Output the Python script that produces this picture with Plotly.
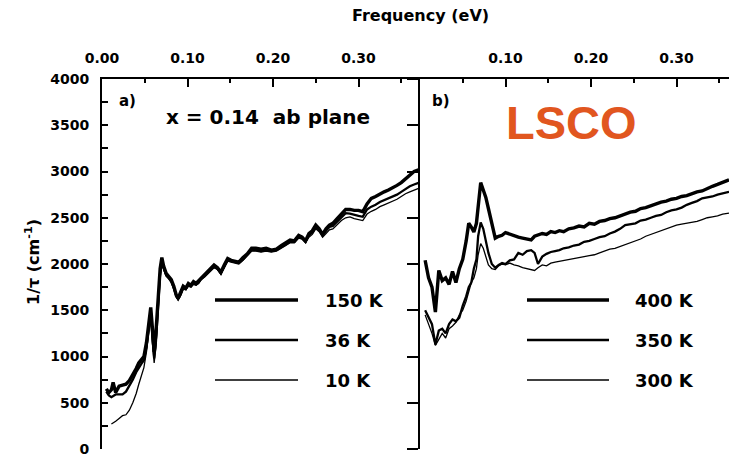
import plotly.graph_objects as go

# ---------------- data ----------------
energy_a = [0.005, 0.008, 0.011, 0.013, 0.016, 0.020, 0.024, 0.028, 0.032, 0.036,
            0.040, 0.043, 0.046, 0.049, 0.052, 0.055, 0.057, 0.059, 0.061, 0.063,
            0.066, 0.068, 0.070, 0.072, 0.075, 0.078, 0.081, 0.084, 0.087, 0.089,
            0.092, 0.095, 0.098, 0.101, 0.104, 0.107, 0.110, 0.113, 0.116, 0.120,
            0.124, 0.128, 0.131, 0.135, 0.139, 0.143, 0.147, 0.151, 0.155, 0.160,
            0.165, 0.170, 0.175, 0.180, 0.186, 0.192, 0.198, 0.204, 0.210, 0.215,
            0.220, 0.225, 0.230, 0.234, 0.238, 0.242, 0.246, 0.250, 0.254, 0.258,
            0.262, 0.266, 0.270, 0.275, 0.280, 0.285, 0.290, 0.295, 0.300, 0.305,
            0.310, 0.315, 0.320, 0.325, 0.330, 0.335, 0.340, 0.345, 0.350, 0.355,
            0.360, 0.365, 0.371]

rate_150K = [650, 610, 640, 720, 610, 680, 690, 700, 740, 800,
             870, 930, 960, 1000, 1150, 1400, 1530, 1300, 1050, 1250,
             1700, 1950, 2070, 1980, 1900, 1870, 1830, 1760, 1660, 1630,
             1690, 1760, 1740, 1790, 1770, 1810, 1790, 1820, 1850, 1890,
             1930, 1960, 1990, 1960, 1910, 1990, 2060, 2040, 2030, 2020,
             2070, 2110, 2170, 2170, 2160, 2170, 2150, 2160, 2200, 2230,
             2260, 2250, 2310, 2290, 2250, 2330, 2360, 2420, 2380, 2320,
             2380, 2420, 2440, 2490, 2540, 2590, 2590, 2580, 2580, 2565,
             2650, 2710, 2730, 2760, 2780, 2800, 2820, 2850, 2880, 2920,
             2960, 3000, 3020]

rate_36K = [620, 580, 560, 570, 590, 590, 590, 620, 680, 750,
            830, 880, 920, 960, 1100, 1350, 1480, 1200, 980, 1150,
            1600, 1900, 2020, 1960, 1880, 1850, 1810, 1740, 1650, 1620,
            1670, 1740, 1730, 1770, 1760, 1790, 1780, 1800, 1840, 1870,
            1910, 1950, 1970, 1950, 1900, 1970, 2040, 2030, 2020, 2010,
            2050, 2100, 2150, 2150, 2140, 2150, 2140, 2150, 2180, 2210,
            2240, 2240, 2290, 2280, 2240, 2310, 2340, 2400, 2370, 2310,
            2360, 2400, 2410, 2460, 2500, 2550, 2545, 2530, 2520, 2510,
            2590, 2620, 2640, 2670, 2690, 2710, 2730, 2750, 2780, 2810,
            2840, 2860, 2880]

rate_10K = [None, None, 270, 280, 300, 330, 360, 370, 420, 500,
            600, 700, 780, 880, 1050, 1300, 1420, 1150, 930, 1100,
            1550, 1850, 1990, 1940, 1870, 1840, 1800, 1730, 1640, 1610,
            1660, 1730, 1720, 1760, 1750, 1780, 1770, 1790, 1830, 1860,
            1900, 1940, 1960, 1940, 1890, 1960, 2030, 2020, 2010, 2000,
            2040, 2090, 2140, 2140, 2130, 2140, 2130, 2140, 2170, 2200,
            2230, 2230, 2280, 2270, 2230, 2290, 2320, 2380, 2350, 2290,
            2330, 2370, 2380, 2430, 2470, 2500, 2510, 2490, 2480, 2470,
            2540, 2570, 2590, 2620, 2640, 2660, 2680, 2700, 2730, 2760,
            2780, 2800, 2820]

energy_b = [0.006, 0.010, 0.014, 0.018, 0.022, 0.026, 0.030, 0.034, 0.038, 0.042,
            0.046, 0.050, 0.054, 0.057, 0.060, 0.063, 0.066, 0.068, 0.071, 0.074,
            0.077, 0.080, 0.084, 0.088, 0.092, 0.096, 0.100, 0.105, 0.110, 0.115,
            0.120, 0.125, 0.130, 0.134, 0.138, 0.143, 0.148, 0.153, 0.158, 0.163,
            0.168, 0.174, 0.180, 0.186, 0.192, 0.198, 0.204, 0.210, 0.216, 0.222,
            0.228, 0.234, 0.240, 0.246, 0.252, 0.258, 0.264, 0.270, 0.276, 0.282,
            0.288, 0.294, 0.300, 0.306, 0.312, 0.318, 0.324, 0.330, 0.336, 0.342,
            0.348, 0.354, 0.3614]

rate_400K = [2040, 1850, 1750, 1480, 1930, 1820, 1850, 1780, 1920, 1800,
             1950, 2050, 2250, 2440, 2400, 2345, 2440, 2650, 2880, 2800,
             2720, 2600, 2450, 2280, 2300, 2310, 2340, 2320, 2300, 2290,
             2280, 2270, 2260, 2300, 2310, 2330, 2320, 2350, 2340, 2360,
             2350, 2380, 2390, 2410, 2400, 2440, 2430, 2460, 2470, 2490,
             2500, 2520, 2540, 2560, 2570, 2600, 2610, 2630, 2650, 2670,
             2680, 2700, 2710, 2730, 2740, 2760, 2780, 2790, 2820, 2840,
             2860, 2880, 2910]

rate_350K = [1500, 1420, 1350, 1130, 1280, 1300, 1250, 1350, 1400, 1380,
             1420, 1550, 1650, 1750, 1800, 1950, 2050, 2300, 2450, 2380,
             2260, 2120, 2000, 1960, 1990, 2010, 2000, 2040, 2050, 2120,
             2100, 2140, 2150, 2120, 2000, 2080, 2110, 2130, 2140, 2150,
             2170, 2180, 2200, 2210, 2240, 2250, 2270, 2290, 2300, 2330,
             2350, 2380, 2420, 2430, 2440, 2470, 2480, 2500, 2520, 2530,
             2560, 2580, 2590, 2610, 2640, 2660, 2680, 2710, 2720, 2730,
             2750, 2760, 2780]

rate_300K = [1450, 1350, 1250, 1120, 1180, 1250, 1200, 1300, 1330, 1370,
             1450, 1500, 1600, 1700, 1800, 1850, 1950, 2100, 2220, 2170,
             2080, 1990, 1950, 1940, 1980, 2000, 1990, 2010, 1990, 1980,
             1960, 1950, 1940, 1930, 1960, 1990, 1980, 2010, 2020, 2030,
             2040, 2050, 2060, 2070, 2080, 2090, 2100, 2120, 2140, 2160,
             2170, 2190, 2210, 2225, 2250, 2270, 2300, 2320, 2340, 2360,
             2380, 2400, 2420, 2430, 2440, 2450, 2460, 2480, 2500, 2510,
             2520, 2540, 2550]

labels_a = ["150 K", "36 K", "10 K"]
labels_b = ["400 K", "350 K", "300 K"]
top_ticks_a = [0.0, 0.1, 0.2, 0.3]
top_text_a = ["0.00", "0.10", "0.20", "0.30"]
top_ticks_b = [0.1, 0.2, 0.3]
top_text_b = ["0.10", "0.20", "0.30"]

# ---------------- layout geometry ----------------
W, H = 729, 456
L, R, T, B = 102, 0, 79, 7
PW, PH = W - L - R, H - T - B
PX_PER_EV = 855.0
split_px = 420
EV_TO_CM = 8065.54
range_a = (split_px - L) / PX_PER_EV
range_b = (W - split_px) / PX_PER_EV
dom_split = (split_px - L) / PW


def xp(px):
    return (px - L) / PW


def yp(py):
    return (H - B - py) / PH


FONT = "DejaVu Sans"
LINE_W = [3.4, 2.3, 1.3]

fig = go.Figure()
for ys, lbl, w in zip([rate_150K, rate_36K, rate_10K], labels_a, LINE_W):
    fig.add_trace(go.Scatter(x=energy_a, y=ys, mode="lines", name=lbl,
                             line=dict(color="black", width=w), xaxis="x", yaxis="y",
                             connectgaps=False, showlegend=False))
for ys, lbl, w in zip([rate_400K, rate_350K, rate_300K], labels_b, LINE_W):
    fig.add_trace(go.Scatter(x=energy_b, y=ys, mode="lines", name=lbl,
                             line=dict(color="black", width=w), xaxis="x2", yaxis="y2",
                             showlegend=False))

tickfont = dict(family=FONT, size=14, color="black", weight="bold")
common_x = dict(showline=True, linecolor="black", linewidth=2, ticks="inside",
                tickcolor="black", tickwidth=2, showgrid=False, zeroline=False)

fig.update_layout(
    width=W, height=H, margin=dict(l=L, r=R, t=T, b=B, pad=0),
    paper_bgcolor="white", plot_bgcolor="white", showlegend=False,
    xaxis=dict(domain=[0, dom_split], range=[0, range_a], side="top", anchor="y",
               tickmode="array", tickvals=top_ticks_a, ticktext=top_text_a, ticklen=8,
               tickfont=tickfont, ticklabelstandoff=8, ticklabeloverflow="allow",
               minor=dict(dtick=0.05, tick0=0, ticklen=4, ticks="inside",
                          tickcolor="black", tickwidth=2),
               **common_x),
    xaxis2=dict(domain=[dom_split, 1], range=[0, range_b], side="top", anchor="y2",
                tickmode="array", tickvals=top_ticks_b, ticktext=top_text_b, ticklen=8,
                tickfont=tickfont, ticklabelstandoff=8, ticklabeloverflow="allow",
                minor=dict(dtick=0.05, tick0=0, ticklen=4, ticks="inside",
                           tickcolor="black", tickwidth=2),
                **common_x),
    xaxis3=dict(overlaying="x", range=[0, range_a * EV_TO_CM], side="bottom",
                anchor="y", dtick=1000, tick0=0, ticklen=8, showticklabels=False,
                minor=dict(dtick=500, tick0=0, ticklen=4, ticks="inside",
                           tickcolor="black", tickwidth=2),
                **common_x),
    xaxis4=dict(overlaying="x2", range=[0, range_b * EV_TO_CM], side="bottom",
                anchor="y2", dtick=1000, tick0=0, ticklen=8, showticklabels=False,
                minor=dict(dtick=500, tick0=0, ticklen=4, ticks="inside",
                           tickcolor="black", tickwidth=2),
                **common_x),
    yaxis=dict(domain=[0, 1], range=[0, 4000], anchor="x", side="left",
               dtick=500, tick0=0, ticklen=6, ticks="inside", tickcolor="black",
               tickwidth=2, showline=True, linecolor="black", linewidth=2,
               tickfont=tickfont, ticklabelstandoff=8, ticklabeloverflow="allow",
               showgrid=False, zeroline=False,
               minor=dict(dtick=250, tick0=0, ticklen=6, ticks="inside",
                          tickcolor="black", tickwidth=2)),
    yaxis2=dict(domain=[0, 1], range=[0, 4000], anchor="x2", side="left",
                dtick=500, tick0=0, ticklen=11, ticks="outside", tickcolor="black",
                tickwidth=2, showline=True, linecolor="black", linewidth=2,
                showticklabels=False, showgrid=False, zeroline=False),
    yaxis3=dict(overlaying="y2", range=[0, 4000], anchor="x2", side="left",
                dtick=500, tick0=0, ticklen=12, ticks="inside", tickcolor="black",
                tickwidth=2, showline=False, showticklabels=False, showgrid=False,
                zeroline=False),
)


def ann(text, px, py, size, xanchor="center", **kw):
    d = dict(text=text, x=xp(px), y=yp(py), xref="paper", yref="paper",
             xanchor=xanchor, yanchor="middle", showarrow=False,
             font=dict(family=FONT, size=size, color="black", weight="bold"))
    d.update(kw)
    fig.add_annotation(**d)


ann("Frequency (eV)", 420, 15, 16)
ann("1/τ (cm<sup>-1</sup>)", 32, 262, 16, textangle=-90)
ann("a)", 127, 101, 15)
ann("b)", 441, 101, 15)
ann("x = 0.14&nbsp;&nbsp;ab plane", 268, 117, 20)
fig.add_annotation(text="LSCO", x=xp(571), y=yp(122), xref="paper", yref="paper",
                   xanchor="center", yanchor="middle", showarrow=False,
                   font=dict(family="Liberation Sans", size=47, color="#E1561F",
                             weight="bold"))

# legends
leg_rows = [300, 340, 380]
for lbl, py, w in zip(labels_a, leg_rows, LINE_W):
    fig.add_shape(type="line", xref="paper", yref="paper", x0=xp(215), x1=xp(298),
                  y0=yp(py), y1=yp(py), line=dict(color="black", width=w))
    ann(lbl, 323, py, 18, xanchor="left")
for lbl, py, w in zip(labels_b, leg_rows, LINE_W):
    fig.add_shape(type="line", xref="paper", yref="paper", x0=xp(527), x1=xp(609),
                  y0=yp(py), y1=yp(py), line=dict(color="black", width=w))
    ann(lbl, 633, py, 18, xanchor="left")

fig.write_html("out.html")
